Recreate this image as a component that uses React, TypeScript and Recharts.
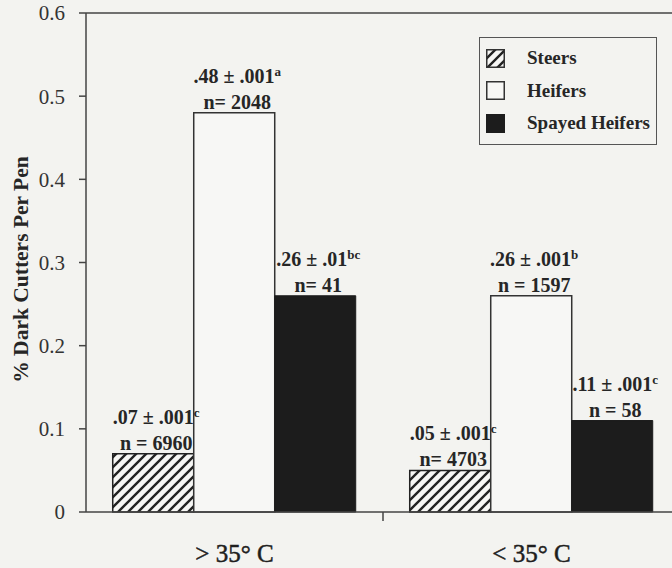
import React from 'react';
import { BarChart, Bar, XAxis, YAxis, ReferenceLine, LabelList } from 'recharts';

const categories = ['> 35° C', '< 35° C'];
const steers = [0.07, 0.05];
const heifers = [0.48, 0.26];
const spayedHeifers = [0.26, 0.11];

const steersStats = ['.07 ± .001', '.05 ± .001'];
const steersSups = ['c', 'c'];
const steersN = ['n = 6960', 'n= 4703'];
const heifersStats = ['.48 ± .001', '.26 ± .001'];
const heifersSups = ['a', 'b'];
const heifersN = ['n= 2048', 'n = 1597'];
const spayedStats = ['.26 ± .01', '.11 ± .001'];
const spayedSups = ['bc', 'c'];
const spayedN = ['n= 41', 'n = 58'];

const yTicks = [0, 0.1, 0.2, 0.3, 0.4, 0.5, 0.6];
const legendNames = ['Steers', 'Heifers', 'Spayed Heifers'];

const data = categories.map((c, i) => ({
  name: c,
  steers: steers[i],
  heifers: heifers[i],
  spayed: spayedHeifers[i],
}));

const serif = '"Liberation Serif", "Times New Roman", serif';
const ink = '#262626';
const paper = '#f3f3f0';

const makeLabel = (stats: string[], sups: string[], ns: string[]) => (props: any) => {
  const { x, y, width, index } = props;
  const cx = Number(x) + Number(width) / 2 + 3;
  return (
    <text x={cx} textAnchor="middle" fontFamily={serif} fontWeight="bold" fontSize={20} fill={ink}>
      <tspan x={cx} y={Number(y) - 30}>
        {stats[index]}
        <tspan dy={-7} fontSize={13}>{sups[index]}</tspan>
      </tspan>
      <tspan x={cx} y={Number(y) - 4}>{ns[index]}</tspan>
    </text>
  );
};

const XTick = (props: any) => {
  const { x, y, payload, index } = props;
  const half = payload && payload.offset ? payload.offset : 0;
  const axisY = y - 34;
  return (
    <g>
      {index > 0 && half > 0 && (
        <line x1={x - half} x2={x - half} y1={axisY} y2={axisY + 9} stroke="#444" strokeWidth={1.5} />
      )}
      <text
        x={x}
        y={y + 16}
        textAnchor="middle"
        fontFamily={serif}
        fontSize={25}
        fill="#1e1e1e"
        stroke="#1e1e1e"
        strokeWidth={0.5}
      >
        {payload.value}
      </text>
    </g>
  );
};

const YLabel = (props: any) => {
  const { viewBox } = props;
  const cy = viewBox.y + viewBox.height / 2 + 7;
  return (
    <text
      x={21}
      y={cy}
      transform={`rotate(-90, 21, ${cy})`}
      textAnchor="middle"
      dominantBaseline="central"
      fontFamily={serif}
      fontWeight="bold"
      fontSize={21.5}
      fill={ink}
    >
      % Dark Cutters Per Pen
    </text>
  );
};

const Swatch = ({ i }: { i: number }) => (
  <svg width={19} height={19} style={{ display: 'block' }}>
    <rect
      x={0.75}
      y={0.75}
      width={17.5}
      height={17.5}
      fill={i === 0 ? 'url(#steersHatch)' : i === 1 ? '#f7f7f5' : '#1c1c1c'}
      stroke={i === 2 ? '#1c1c1c' : '#333'}
      strokeWidth={1.5}
    />
  </svg>
);

export default function App() {
  return (
    <div
      style={{
        position: 'absolute',
        left: 0,
        top: 0,
        width: 672,
        height: 568,
        overflow: 'hidden',
        background: paper,
      }}
    >
      <svg width={0} height={0} style={{ position: 'absolute' }}>
        <defs>
          <pattern id="steersHatch" patternUnits="userSpaceOnUse" width={10} height={10}>
            <rect width={10} height={10} fill="#f7f7f5" />
            <path d="M-2.5,2.5 L2.5,-2.5 M0,10 L10,0 M7.5,12.5 L12.5,7.5" stroke="#222" strokeWidth={2.4} />
          </pattern>
        </defs>
      </svg>
      <BarChart
        width={700}
        height={568}
        data={data}
        margin={{ top: 13, right: 20, bottom: 6, left: 0 }}
        barCategoryGap="9%"
        barGap={0}
      >
        <XAxis
          dataKey="name"
          height={50}
          tickSize={0}
          tickMargin={34}
          tick={<XTick />}
          axisLine={{ stroke: '#444', strokeWidth: 1.5 }}
          interval={0}
        />
        <YAxis
          width={86}
          domain={[0, 0.6]}
          ticks={yTicks}
          interval={0}
          tickSize={7}
          tickMargin={14}
          tick={{ fontFamily: serif, fontSize: 21, fill: '#333' }}
          axisLine={{ stroke: '#444', strokeWidth: 1.5 }}
          tickLine={{ stroke: '#444', strokeWidth: 1.5 }}
          label={<YLabel />}
        />
        <ReferenceLine y={0.6} stroke="#444" strokeWidth={1.5} />
        <Bar dataKey="steers" fill="url(#steersHatch)" stroke="#222" strokeWidth={1.5} isAnimationActive={false}>
          <LabelList dataKey="steers" content={makeLabel(steersStats, steersSups, steersN)} />
        </Bar>
        <Bar dataKey="heifers" fill="#f7f7f5" stroke="#333" strokeWidth={1.5} isAnimationActive={false}>
          <LabelList dataKey="heifers" content={makeLabel(heifersStats, heifersSups, heifersN)} />
        </Bar>
        <Bar dataKey="spayed" fill="#1c1c1c" stroke="#1c1c1c" strokeWidth={1} isAnimationActive={false}>
          <LabelList dataKey="spayed" content={makeLabel(spayedStats, spayedSups, spayedN)} />
        </Bar>
      </BarChart>
      <div
        style={{
          position: 'absolute',
          left: 479,
          top: 37,
          width: 178,
          height: 108,
          boxSizing: 'border-box',
          border: '1.5px solid #555',
          background: paper,
          fontFamily: serif,
          fontWeight: 'bold',
          fontSize: 19,
          color: ink,
        }}
      >
        {legendNames.map((name, i) => (
          <div
            key={name}
            style={{
              position: 'absolute',
              left: 6,
              top: 10 + i * 32.5,
              display: 'flex',
              alignItems: 'center',
              height: 20,
              whiteSpace: 'nowrap',
            }}
          >
            <Swatch i={i} />
            <span style={{ marginLeft: 22 }}>{name}</span>
          </div>
        ))}
      </div>
    </div>
  );
}
